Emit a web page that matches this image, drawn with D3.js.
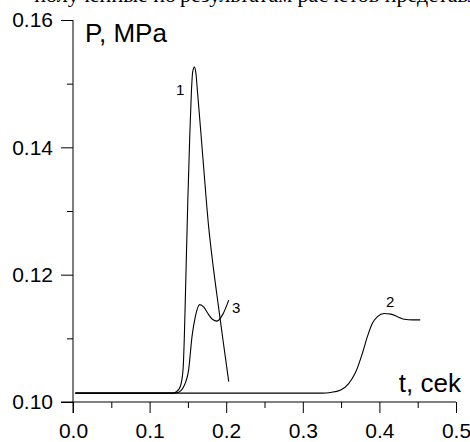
<!DOCTYPE html>
<html>
<head>
<meta charset="utf-8">
<script src="https://cdn.jsdelivr.net/npm/d3@7"></script>
<style>
  body { margin: 0; background: #fff; }
  svg { display: block; font-family: 'Liberation Sans', Arial, sans-serif; }
</style>
</head>
<body>
<script>
// curve 1
const t1 = [0.003, 0.130, 0.135, 0.140, 0.1436, 0.1453, 0.1466, 0.1499, 0.1525, 0.1545, 0.1562, 0.1584, 0.1603, 0.1627, 0.1698, 0.1771, 0.1832, 0.1898, 0.1963, 0.2033];
const p1 = [0.1014, 0.1014, 0.1016, 0.1024, 0.1050, 0.1100, 0.1160, 0.1317, 0.1420, 0.1485, 0.1518, 0.1526, 0.1518, 0.1485, 0.1380, 0.1275, 0.1211, 0.1151, 0.1093, 0.1032];
// curve 2
const t2 = [0.003, 0.325, 0.3364, 0.3495, 0.3599, 0.3691, 0.3779, 0.3844, 0.3910, 0.3975, 0.4062, 0.4149, 0.4237, 0.4323, 0.4433, 0.4533];
const p2 = [0.1014, 0.1014, 0.1015, 0.1019, 0.1029, 0.1047, 0.1077, 0.1103, 0.1124, 0.1134, 0.1139, 0.1138, 0.1134, 0.1130, 0.1129, 0.1129];
// curve 3
const t3 = [0.003, 0.132, 0.137, 0.1401, 0.1444, 0.1509, 0.1554, 0.1597, 0.1653, 0.1708, 0.1767, 0.1819, 0.1880, 0.1957, 0.2033];
const p3 = [0.1014, 0.1014, 0.1015, 0.1017, 0.1024, 0.1050, 0.1103, 0.1134, 0.1153, 0.1149, 0.1138, 0.1130, 0.1127, 0.1138, 0.1160];

const xTicks = [0, 0.1, 0.2, 0.3, 0.4, 0.5];
const xMinor = [0.05, 0.15, 0.25, 0.35, 0.45];
const yTicks = [0.10, 0.12, 0.14, 0.16];
const yMinor = [0.11, 0.13, 0.15];

document.addEventListener('DOMContentLoaded', () => {
  const w = 470;
  const h = 442;

  const xScale = d3.scaleLinear().domain([0, 0.5]).range([73, 456]);
  const yScale = d3.scaleLinear().domain([0.10, 0.16]).range([402, 20]);

  const svg = d3.select('body')
                .append('svg')
                .attr('width', w)
                .attr('height', h);

  // cut-off line of page text above the figure
  svg.append('text').text('полученные по').attr('x', 176).attr('y', 2)
     .attr('text-anchor', 'end').style('font-family', "'Liberation Serif', serif").style('font-size', '22px');
  svg.append('text').text('результатам расчетов представлены').attr('x', 180).attr('y', 2)
     .style('font-family', "'Liberation Serif', serif").style('font-size', '22px');

  const xAxis = d3.axisBottom(xScale).tickValues(xTicks).tickSize(11).tickSizeOuter(0).tickPadding(10).tickFormat(d3.format('.1f'));
  const xAxisMinor = d3.axisBottom(xScale).tickValues(xMinor).tickSize(6).tickSizeOuter(0).tickFormat('');
  const yAxis = d3.axisLeft(yScale).tickValues(yTicks).tickSize(12).tickSizeOuter(0).tickPadding(8).tickFormat(d3.format('.2f'));
  const yAxisMinor = d3.axisLeft(yScale).tickValues(yMinor).tickSize(6).tickSizeOuter(0).tickFormat('');

  const gx = svg.append('g').attr('transform', 'translate(0,' + yScale(0.10) + ')').call(xAxis);
  svg.append('g').attr('transform', 'translate(0,' + yScale(0.10) + ')').call(xAxisMinor);
  const gy = svg.append('g').attr('transform', 'translate(' + xScale(0) + ',0)').call(yAxis);
  svg.append('g').attr('transform', 'translate(' + xScale(0) + ',0)').call(yAxisMinor);

  svg.selectAll('.domain').remove();
  svg.selectAll('.tick line').attr('stroke', '#000').attr('stroke-width', 1);
  gx.selectAll('text').style('font-size', '21px').attr('fill', '#000');
  gy.selectAll('text').style('font-size', '21px').attr('fill', '#000');

  // axis lines, each runs past the corner by one tick length
  svg.append('line').attr('x1', xScale(0)).attr('x2', xScale(0))
     .attr('y1', yScale(0.16)).attr('y2', yScale(0.10) + 11).attr('stroke', '#000');
  svg.append('line').attr('x1', xScale(0) - 12).attr('x2', xScale(0.5))
     .attr('y1', yScale(0.10)).attr('y2', yScale(0.10)).attr('stroke', '#000');

  const line = d3.line()
                 .x((d) => xScale(d[0]))
                 .y((d) => yScale(d[1]))
                 .curve(d3.curveMonotoneX);

  [[t1, p1], [t2, p2], [t3, p3]].forEach((s) => {
    svg.append('path')
       .datum(d3.zip(s[0], s[1]))
       .attr('d', line)
       .attr('fill', 'none')
       .attr('stroke', '#000')
       .attr('stroke-width', 1.1);
  });

  svg.append('text').text('P, MPa').attr('x', 85).attr('y', 42).style('font-size', '26px');
  svg.append('text').text('t, cek').attr('x', 461).attr('y', 392).attr('text-anchor', 'end').style('font-size', '26px');

  svg.append('text').text('1').attr('x', 176).attr('y', 95).style('font-size', '15px');
  svg.append('text').text('2').attr('x', 386).attr('y', 307).style('font-size', '15px');
  svg.append('text').text('3').attr('x', 232).attr('y', 313).style('font-size', '15px');
});
</script>
</body>
</html>
